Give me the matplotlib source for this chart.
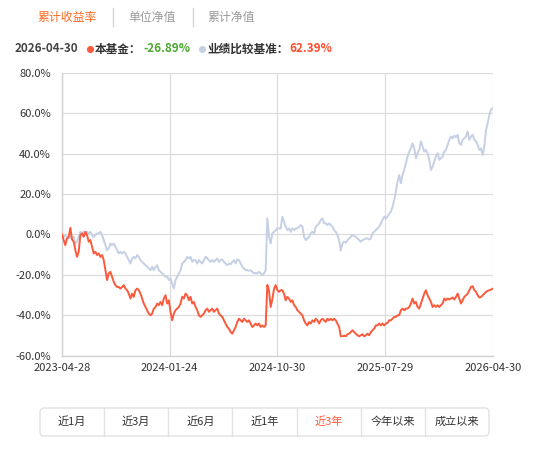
"""
累计收益率 chart: fund vs benchmark, last 3 years.
"""
import matplotlib.pyplot as plt
import numpy as np
from matplotlib.patches import FancyBboxPatch

plt.rcParams['font.family'] = ['Noto Sans CJK SC', 'DejaVu Sans']

TABS = ["累计收益率", "单位净值", "累计净值"]
DATE = "2026-04-30"
FUND_NAME = "本基金："
BENCH_NAME = "业绩比较基准："
FUND_LAST = -26.89
BENCH_LAST = 62.39
RANGES = ["近1月", "近3月", "近6月", "近1年", "近3年", "今年以来", "成立以来"]
ACTIVE_RANGE = "近3年"
X_LABELS = ["2023-04-28", "2024-01-24", "2024-10-30", "2025-07-29", "2026-04-30"]
Y_TICKS = [-60, -40, -20, 0, 20, 40, 60, 80]

# cumulative return (%), sampled evenly along the trading-day axis
FUND = [
    0.0, -2.8, -5.3, -2.0, -1.2, 3.3, -2.5, -3.6, -7.8, -11.1,
    -8.6, -0.3, 0.5, -1.2, 1.3, -0.3, -3.6, -2.8, -6.1, -9.4,
    -8.6, -10.2, -9.4, -11.1, -10.2, -12.7, -17.7, -22.6, -19.3, -18.5,
    -21.0, -23.5, -25.1, -26.0, -26.0, -26.8, -26.0, -25.1, -26.8, -27.6,
    -29.3, -31.7, -29.3, -30.9, -27.6, -26.8, -27.6, -29.3, -31.7, -34.2,
    -35.9, -37.5, -39.2, -40.0, -39.2, -36.7, -35.9, -34.2, -35.0, -33.4,
    -35.0, -31.7, -30.1, -34.2, -32.6, -38.3, -42.5, -39.2, -37.5, -36.7,
    -35.9, -34.2, -30.9, -31.7, -29.3, -30.1, -32.6, -30.9, -34.2, -33.4,
    -35.9, -37.5, -40.0, -40.8, -40.0, -39.2, -37.5, -36.7, -38.3, -37.5,
    -36.7, -38.3, -37.5, -36.7, -39.2, -40.0, -40.8, -42.5, -44.1, -45.8,
    -46.6, -48.3, -49.1, -47.4, -45.8, -43.3, -41.7, -42.5, -43.3, -41.7,
    -42.5, -43.3, -42.5, -44.1, -45.8, -45.0, -44.1, -45.0, -44.1, -45.8,
    -45.0, -45.8, -45.0, -25.0, -28.0, -35.9, -32.0, -27.0, -25.1, -27.6,
    -28.4, -27.6, -27.6, -29.3, -32.6, -30.9, -31.7, -33.4, -32.6, -35.0,
    -35.9, -37.5, -38.3, -39.2, -40.0, -42.5, -44.1, -45.0, -43.3, -44.1,
    -42.5, -43.3, -41.7, -42.5, -44.1, -42.5, -41.7, -42.5, -43.3, -41.7,
    -42.5, -41.7, -42.5, -41.7, -42.5, -44.1, -45.8, -50.4, -50.4, -50.1,
    -50.4, -49.4, -49.1, -48.3, -47.4, -48.3, -49.1, -49.9, -50.4, -49.9,
    -49.4, -50.4, -49.9, -49.1, -49.9, -48.3, -47.4, -46.6, -45.0, -45.0,
    -44.1, -45.0, -44.1, -45.0, -44.1, -43.8, -42.5, -42.5, -41.7, -40.8,
    -40.8, -40.0, -40.0, -37.5, -36.7, -37.5, -36.7, -36.7, -35.9, -34.2,
    -31.7, -34.2, -33.4, -35.9, -36.7, -34.2, -31.7, -29.3, -27.6, -30.1,
    -31.7, -33.4, -35.9, -35.0, -35.9, -35.0, -35.9, -35.0, -34.2, -31.7,
    -32.6, -31.7, -32.2, -31.7, -31.2, -32.2, -30.9, -29.3, -31.7, -34.2,
    -32.6, -30.9, -30.1, -29.3, -27.6, -26.0, -25.6, -27.6, -28.4, -30.1,
    -31.2, -30.9, -30.1, -29.3, -28.4, -27.9, -27.6, -27.3, FUND_LAST,
]
BENCH = [
    0.0, -1.2, -0.3, -1.2, -2.0, -1.2, -2.0, -1.2, -4.5, -3.6,
    -1.2, 1.3, 0.5, 1.3, 0.5, 1.3, 0.5, 1.3, -0.3, -1.2,
    -0.3, 0.5, 0.5, 1.3, -0.3, -2.8, -5.3, -7.8, -6.9, -4.5,
    -5.3, -4.5, -6.1, -7.8, -9.4, -8.6, -9.4, -8.6, -9.4, -11.1,
    -12.7, -14.4, -11.9, -11.1, -11.9, -10.2, -11.1, -12.7, -13.6, -14.4,
    -15.2, -16.0, -16.9, -17.7, -16.0, -17.7, -16.0, -15.2, -17.7, -18.5,
    -19.3, -20.2, -21.0, -20.7, -22.6, -21.8, -24.3, -26.8, -22.6, -21.0,
    -19.3, -17.7, -14.4, -13.6, -12.7, -11.1, -11.9, -11.1, -13.6, -12.7,
    -12.7, -14.4, -12.7, -13.6, -14.4, -12.7, -11.1, -11.9, -12.7, -13.6,
    -12.7, -13.6, -12.7, -11.9, -13.6, -12.7, -12.4, -13.6, -14.4, -15.2,
    -14.4, -14.7, -13.6, -12.7, -14.4, -12.4, -12.7, -14.4, -16.0, -16.9,
    -17.7, -17.7, -18.0, -17.7, -18.5, -19.3, -19.0, -19.3, -18.5, -19.3,
    -20.2, -19.3, -17.7, 7.9, -1.0, -4.5, 0.5, 1.3, 2.0, 3.0,
    3.0, 3.0, 8.8, 6.3, 3.8, 2.1, 3.0, 1.3, 3.0, 2.1,
    3.0, 3.0, 3.8, 4.6, 3.8, -1.2, -2.8, -2.0, -1.2, 0.5,
    1.3, 0.5, 3.8, 4.6, 5.5, 7.1, 7.9, 5.5, 5.5, 4.6,
    5.5, 4.6, 3.8, 2.1, 1.3, -0.3, -2.8, -8.0, -4.5, -3.6,
    -4.1, -2.8, -2.0, -1.2, -0.3, -0.8, -1.2, -2.0, -2.8, -3.6,
    -2.8, -2.5, -2.0, -2.0, -2.5, -2.0, 0.5, 1.3, 2.1, 3.0,
    3.8, 5.5, 7.1, 8.8, 7.9, 8.8, 10.4, 11.2, 13.7, 17.0,
    21.2, 26.1, 29.4, 25.3, 29.4, 31.9, 35.2, 38.5, 41.0, 42.6,
    45.1, 42.6, 37.7, 40.2, 41.8, 46.0, 43.5, 41.0, 41.8, 40.2,
    36.9, 31.9, 33.6, 36.0, 38.5, 40.2, 36.9, 37.7, 38.5, 41.0,
    41.8, 44.3, 46.8, 48.4, 47.6, 48.8, 48.1, 49.3, 45.1, 44.3,
    46.8, 47.6, 48.4, 50.9, 46.8, 48.4, 49.3, 46.8, 46.0, 44.3,
    41.8, 42.6, 39.3, 43.5, 51.7, 55.0, 59.2, 61.7, BENCH_LAST,
]

FUND_COLOR = "#fb5a3c"
BENCH_COLOR = "#c5d0e4"
ORANGE = "#ff6a22"
GREEN = "#4aa82e"
W, H = 554, 457


def main():
    fig = plt.figure(figsize=(W / 100, H / 100), dpi=100)

    # overlay in pixel coordinates for the header and the range buttons
    bg = fig.add_axes([0, 0, 1, 1])
    bg.set_xlim(0, W)
    bg.set_ylim(H, 0)
    bg.axis("off")

    # tabs
    bg.text(37, 17, TABS[0], color=ORANGE, fontsize=8.6, va="center")
    bg.text(128, 17, TABS[1], color="#9a9a9a", fontsize=8.6, va="center")
    bg.text(207, 17, TABS[2], color="#9a9a9a", fontsize=8.6, va="center")
    for sx in (112.5, 192.5):
        bg.plot([sx, sx], [8, 26], color="#d6d6d6", lw=1)

    # legend line
    bold = dict(fontsize=8.4, fontweight="bold", va="center")
    bg.text(15, 49, DATE, color="#444444", **bold)
    bg.scatter([89.5], [49], s=26, color=FUND_COLOR, lw=0)
    bg.text(95, 49, FUND_NAME, color="#333333", **bold)
    bg.text(143, 49, f"{FUND_LAST:.2f}%", color=GREEN, **bold)
    bg.scatter([201.5], [49], s=26, color=BENCH_COLOR, lw=0)
    bg.text(207, 49, BENCH_NAME, color="#333333", **bold)
    bg.text(289, 49, f"{BENCH_LAST:.2f}%", color="#ff4b2b", **bold)

    # range buttons
    bx0, bx1, by0, by1 = 40, 489, 408, 436
    bg.add_patch(FancyBboxPatch((bx0, by0), bx1 - bx0, by1 - by0,
                                boxstyle="round,pad=0,rounding_size=4",
                                fc="white", ec="#e2e2e2", lw=1))
    cell = (bx1 - bx0) / len(RANGES)
    for i, label in enumerate(RANGES):
        if i > 0:
            bg.plot([bx0 + i * cell] * 2, [by0, by1], color="#e2e2e2", lw=1)
        bg.text(bx0 + (i + 0.5) * cell, (by0 + by1) / 2, label,
                ha="center", va="center", fontsize=8,
                color="#ff5a3c" if label == ACTIVE_RANGE else "#333333")

    # main chart
    ax = fig.add_axes([62 / W, 1 - 355.7 / H, 430.7 / W, 283 / H])
    x = np.arange(len(FUND))
    ax.plot(x, BENCH, color=BENCH_COLOR, lw=1.4, zorder=3)
    ax.plot(x, FUND, color=FUND_COLOR, lw=1.4, zorder=4)

    ax.set_xlim(0, len(FUND) - 1)
    ax.set_ylim(Y_TICKS[0], Y_TICKS[-1])
    ax.set_yticks(Y_TICKS)
    ax.set_yticklabels([f"{v:.1f}%" for v in Y_TICKS])
    ax.set_xticks(np.linspace(0, len(FUND) - 1, len(X_LABELS)))
    ax.set_xticklabels(X_LABELS)
    ax.tick_params(length=0, labelsize=8, labelcolor="#333333")
    ax.tick_params(axis="y", pad=8)
    ax.tick_params(axis="x", pad=5)
    ax.grid(True, color="#dcdcdc", lw=0.9)
    ax.set_axisbelow(True)
    for side in ("top", "right"):
        ax.spines[side].set_visible(False)
    for side in ("left", "bottom"):
        ax.spines[side].set_color("#d2d2d2")
        ax.spines[side].set_linewidth(1)
    ax.patch.set_alpha(0)

    fig.savefig("out.png", dpi=100, facecolor="white")
    plt.close(fig)


if __name__ == "__main__":
    main()
